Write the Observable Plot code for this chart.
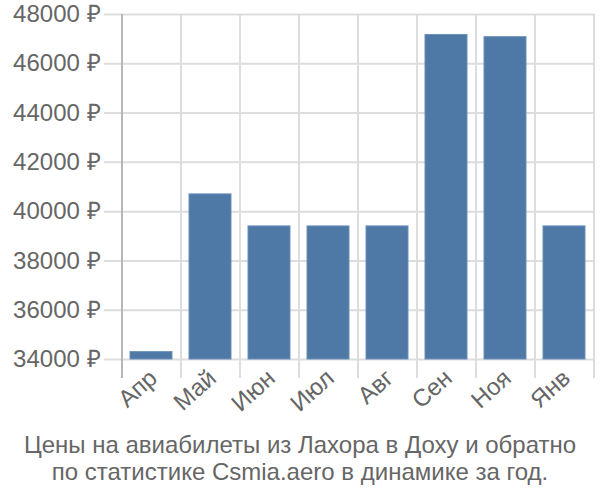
<!DOCTYPE html>
<html>
<head>
<meta charset="utf-8">
<script src="https://cdn.jsdelivr.net/npm/d3@7"></script>
<script src="https://cdn.jsdelivr.net/npm/@observablehq/plot@0.6"></script>
<style>
  body { margin: 0; background: #fff; font-family: "Liberation Sans", Arial, sans-serif; }
  #chart { width: 600px; height: 420px; }
  #chart svg text { font-size: 24px; }
  .caption { width: 600px; text-align: center; color: #666; font-size: 24px; line-height: 27px; margin-top: 11px; }
</style>
</head>
<body>
<div id="chart"></div>
<script>
const months = ["Апр", "Май", "Июн", "Июл", "Авг", "Сен", "Ноя", "Янв"];
const prices = [34300, 40700, 39400, 39400, 39400, 47170, 47080, 39400];
const yTicks = [34000, 36000, 38000, 40000, 42000, 44000, 46000, 48000];
const captionLines = [
  "Цены на авиабилеты из Лахора в Доху и обратно",
  "по статистике Csmia.aero в динамике за год."
];

const data = months.map((m, i) => ({month: m, price: prices[i]}));
const bw = (600 - 122 - 6) / months.length;

const chart = Plot.plot({
  width: 600,
  height: 420,
  marginLeft: 122,
  marginRight: 6,
  marginTop: 14,
  marginBottom: 61,
  style: {fontFamily: "Liberation Sans, Arial, sans-serif", fontSize: "24px", color: "#666", background: "#fff"},
  x: {domain: months, paddingInner: 0.28, paddingOuter: 0.14, label: null},
  y: {domain: [34000, 48000], label: null},
  marks: [
    Plot.ruleY(yTicks, {stroke: "#ddd", strokeWidth: 2, insetLeft: -18}),
    Plot.ruleX(months, {x: d => d, dx: -bw / 2, y1: 48000, y2: 34000, insetBottom: -19, stroke: "#ddd", strokeWidth: 2}),
    Plot.ruleX([months[months.length - 1]], {x: d => d, dx: bw / 2, y1: 48000, y2: 34000, insetBottom: -19, stroke: "#ddd", strokeWidth: 2}),
    Plot.ruleX([months[0]], {x: d => d, dx: -bw / 2, y1: 48000, y2: 34000, insetBottom: -19, stroke: "#aaa", strokeWidth: 1.5}),
    Plot.barY(data, {x: "month", y1: 34000, y2: "price", fill: "#4e79a7", stroke: "#6a8fb8", strokeWidth: 1}),
    Plot.axisY(yTicks, {tickSize: 0, tickPadding: 22, tickFormat: d => d + " ₽", fill: "#666"}),
    Plot.axisX({tickSize: 0, tickRotate: -42, tickPadding: 15, fill: "#666", dx: 2})
  ]
});
document.getElementById("chart").appendChild(chart);

const cap = document.createElement("div");
cap.className = "caption";
cap.innerHTML = captionLines.join("<br>");
document.body.appendChild(cap);
</script>
</body>
</html>
